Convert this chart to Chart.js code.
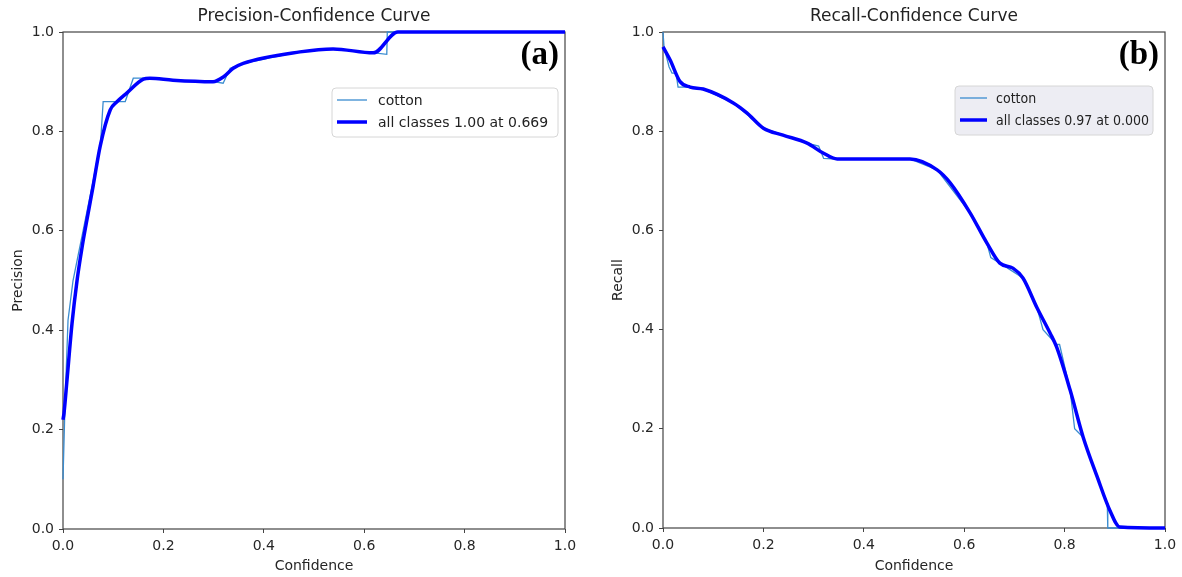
<!DOCTYPE html>
<html>
<head>
<meta charset="utf-8">
<script src="https://cdn.jsdelivr.net/npm/chart.js@4.4.1/dist/chart.umd.min.js"></script>
<style>
  body { margin: 0; background: #fff; }
  #wrap { position: relative; width: 1182px; height: 577px; }
  .panel { position: absolute; top: 0; height: 577px; }
</style>
</head>
<body>
<div id="wrap">
  <div class="panel" style="left:0;width:600px"><canvas id="pc"></canvas></div>
  <div class="panel" style="left:600px;width:582px"><canvas id="rc"></canvas></div>
</div>
<script>
// tick labels shared by both panels
const tickValues = [0, 0.2, 0.4, 0.6, 0.8, 1.0];

// (a) precision - all classes (thick line)
const precConf = [0, 0.002, 0.008, 0.018, 0.028, 0.038, 0.05, 0.06, 0.074, 0.094, 0.107, 0.127, 0.16, 0.173, 0.219, 0.299, 0.32, 0.339, 0.359, 0.472, 0.538, 0.618, 0.667, 1.0];
const precAll  = [0.22, 0.233, 0.30, 0.414, 0.50, 0.567, 0.635, 0.69, 0.77, 0.843, 0.859, 0.877, 0.905, 0.907, 0.903, 0.90, 0.91, 0.927, 0.937, 0.96, 0.966, 0.958, 1.0, 1.0];
// (a) precision - cotton (thin line)
const precCottonConf = [0, 0.004, 0.01, 0.02, 0.03, 0.04, 0.05, 0.06, 0.075, 0.08, 0.104, 0.124, 0.14, 0.16, 0.175, 0.22, 0.30, 0.319, 0.333, 0.36, 0.47, 0.54, 0.62, 0.645, 0.646, 1.0];
const precCotton     = [0.10, 0.25, 0.42, 0.50, 0.55, 0.60, 0.65, 0.70, 0.78, 0.86, 0.86, 0.86, 0.907, 0.907, 0.905, 0.903, 0.90, 0.897, 0.927, 0.937, 0.96, 0.966, 0.958, 0.955, 1.0, 1.0];

// (b) recall - all classes (thick line)
const recConf = [0, 0.014, 0.034, 0.054, 0.08, 0.14, 0.167, 0.2, 0.239, 0.287, 0.319, 0.347, 0.432, 0.492, 0.546, 0.572, 0.612, 0.645, 0.671, 0.697, 0.717, 0.745, 0.771, 0.784, 0.811, 0.837, 0.865, 0.89, 0.91, 1.0];
const recAll  = [0.97, 0.944, 0.90, 0.889, 0.885, 0.857, 0.837, 0.806, 0.792, 0.776, 0.756, 0.744, 0.744, 0.744, 0.722, 0.696, 0.635, 0.575, 0.534, 0.524, 0.504, 0.444, 0.393, 0.365, 0.278, 0.183, 0.103, 0.036, 0.002, 0.0];
// (b) recall - cotton (thin line)
const recCottonConf = [0, 0.002, 0.012, 0.018, 0.026, 0.03, 0.054, 0.08, 0.14, 0.2, 0.287, 0.31, 0.32, 0.347, 0.492, 0.546, 0.612, 0.645, 0.653, 0.671, 0.717, 0.745, 0.757, 0.784, 0.79, 0.811, 0.82, 0.837, 0.865, 0.885, 0.886, 1.0];
const recCotton     = [1.0, 0.97, 0.93, 0.917, 0.917, 0.889, 0.889, 0.885, 0.857, 0.806, 0.776, 0.770, 0.745, 0.744, 0.744, 0.722, 0.635, 0.575, 0.545, 0.534, 0.504, 0.444, 0.40, 0.37, 0.37, 0.278, 0.20, 0.183, 0.103, 0.05, 0.0, 0.0];

const toPoints = (xs, ys) => xs.map((x, i) => ({x: x, y: ys[i]}));

// frame, title, panel letter and the in-plot legend
const decorPlugin = {
  id: 'decor',
  beforeDatasetsDraw(chart, args, opts) {
    const a = chart.chartArea, ctx = chart.ctx;
    ctx.save();
    ctx.strokeStyle = '#444';
    ctx.lineWidth = 1.2;
    ctx.strokeRect(a.left, a.top, a.right - a.left, a.bottom - a.top);
    ctx.restore();
  },
  afterDatasetsDraw(chart, args, opts) {
    const a = chart.chartArea, ctx = chart.ctx;
    ctx.save();
    // title
    ctx.fillStyle = '#222';
    ctx.font = '17px "DejaVu Sans"';
    ctx.textAlign = 'center';
    ctx.textBaseline = 'middle';
    ctx.fillText(opts.title, (a.left + a.right) / 2, 17);
    // (a)/(b)
    ctx.fillStyle = '#000';
    ctx.font = 'bold 33px "Liberation Serif"';
    ctx.textAlign = 'right';
    ctx.textBaseline = 'alphabetic';
    ctx.fillText(opts.letter, a.right - 6, 64);
    // legend box
    const lg = opts.legend;
    const bx = a.right - lg.fromRight, by = a.top + lg.top;
    ctx.beginPath();
    ctx.roundRect(bx, by, lg.width, lg.height, 4);
    ctx.fillStyle = lg.bg;
    ctx.fill();
    ctx.strokeStyle = '#d6d6d6';
    ctx.lineWidth = 1;
    ctx.stroke();
    const rows = chart.data.datasets.map(d => d).reverse();
    rows.forEach((d, i) => {
      const y = by + 12 + i * 22;
      ctx.beginPath();
      ctx.moveTo(bx + 5, y);
      ctx.lineTo(bx + 5 + lg.sample, y);
      ctx.strokeStyle = d.borderColor;
      ctx.lineWidth = d.borderWidth;
      ctx.stroke();
      ctx.fillStyle = '#222';
      ctx.font = lg.font;
      ctx.textAlign = 'left';
      ctx.textBaseline = 'middle';
      ctx.fillText(d.label, bx + lg.textX, y + 1);
    });
    ctx.restore();
  }
};

function makeChart(id, cfg) {
  const tickFont = {family: 'DejaVu Sans', size: 14};
  return new Chart(document.getElementById(id), {
    type: 'line',
    data: {
      datasets: [
        {
          label: cfg.allLabel,
          data: toPoints(cfg.allX, cfg.allY),
          borderColor: '#0000ff',
          borderWidth: 3.5,
          cubicInterpolationMode: 'monotone',
          pointRadius: 0,
          clip: 4,
          order: 0
        },
        {
          label: 'cotton',
          data: toPoints(cfg.cotX, cfg.cotY),
          borderColor: '#3a8cd0',
          borderWidth: 1.3,
          tension: 0,
          pointRadius: 0,
          clip: 4,
          order: 1
        }
      ]
    },
    options: {
      responsive: true,
      maintainAspectRatio: false,
      animation: false,
      layout: {padding: {top: 32, right: cfg.padRight, left: 0, bottom: 0}},
      scales: {
        x: {
          type: 'linear', min: 0, max: 1,
          afterFit: s => { s.height = cfg.xHeight; },
          afterBuildTicks: s => { s.ticks = tickValues.map(v => ({value: v})); },
          ticks: {font: tickFont, color: '#262626', padding: 5, maxRotation: 0,
                  callback: v => v.toFixed(1)},
          grid: {drawOnChartArea: false, drawTicks: true, tickLength: 4, color: '#444'},
          border: {display: false},
          title: {display: true, text: 'Confidence', font: tickFont, color: '#262626', padding: 2}
        },
        y: {
          type: 'linear', min: 0, max: 1,
          afterFit: s => { s.width = 63; },
          afterBuildTicks: s => { s.ticks = tickValues.map(v => ({value: v})); },
          ticks: {font: tickFont, color: '#262626', padding: 5,
                  callback: v => v.toFixed(1)},
          grid: {drawOnChartArea: false, drawTicks: true, tickLength: 4, color: '#444'},
          border: {display: false},
          title: {display: true, text: cfg.yLabel, font: tickFont, color: '#262626', padding: 10}
        }
      },
      plugins: {
        legend: {display: false},
        tooltip: {enabled: false},
        decor: {title: cfg.title, letter: cfg.letter, legend: cfg.legend}
      }
    },
    plugins: [decorPlugin]
  });
}

makeChart('pc', {
  title: 'Precision-Confidence Curve', letter: '(a)', yLabel: 'Precision',
  allLabel: 'all classes 1.00 at 0.669',
  allX: precConf, allY: precAll, cotX: precCottonConf, cotY: precCotton,
  padRight: 35, xHeight: 48,
  legend: {fromRight: 233, top: 56, width: 226, height: 49, bg: 'rgba(255,255,255,0.9)',
           sample: 30, textX: 46, font: '14px "DejaVu Sans"'}
});

makeChart('rc', {
  title: 'Recall-Confidence Curve', letter: '(b)', yLabel: 'Recall',
  allLabel: 'all classes 0.97 at 0.000',
  allX: recConf, allY: recAll, cotX: recCottonConf, cotY: recCotton,
  padRight: 17, xHeight: 49,
  legend: {fromRight: 210, top: 54, width: 198, height: 49, bg: '#ededf3',
           sample: 27, textX: 41, font: '14px "DejaVu Sans Condensed", "DejaVu Sans"'}
});
</script>
</body>
</html>
